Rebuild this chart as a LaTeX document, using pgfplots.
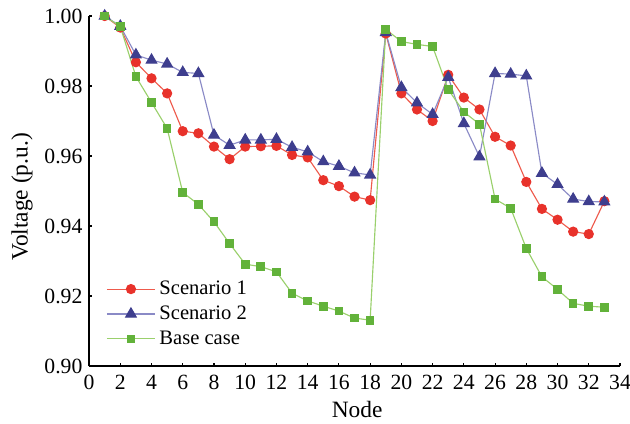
\documentclass[border=0pt]{standalone}
\usepackage{pgfplots}
\pgfplotsset{compat=1.18}
\usepackage{fontspec}
\setmainfont{Liberation Serif}

\definecolor{sOneMark}{HTML}{E8322B}
\definecolor{sOneLine}{HTML}{EE5A4C}
\definecolor{sTwoMark}{HTML}{3E3E8E}
\definecolor{sTwoLine}{HTML}{8A8AC6}
\definecolor{baseMark}{HTML}{62B23A}
\definecolor{baseLine}{HTML}{9AD06C}

\begin{document}
\begin{tikzpicture}
  \begin{axis}[
      scale only axis,
      width=281.4pt, height=185.5pt,
      xmin=0, xmax=34,
      ymin=0.90, ymax=1.00,
      xtick={0,2,4,6,8,10,12,14,16,18,20,22,24,26,28,30,32,34},
      ytick={0.90,0.92,0.94,0.96,0.98,1.00},
      axis x line*=bottom,
      axis y line*=left,
      tick align=inside,
      major tick length=1.8pt,
      axis line style={black, line width=0.6pt},
      tick style={black, line width=0.6pt},
      /pgf/number format/assume math mode=true,
      ticklabel style={font=\fontsize{11.5}{12}\selectfont},
      xticklabel style={anchor=base, yshift=-12.7pt},
      yticklabel style={
        /pgf/number format/fixed,
        /pgf/number format/fixed zerofill,
        /pgf/number format/precision=2},
      label style={font=\fontsize{12.4}{14}\selectfont},
      xlabel={Node},
      ylabel={Voltage (p.u.)},
      xlabel style={at={(axis description cs:0.505,-0.124)}, anchor=center},
      ylabel style={at={(axis description cs:-0.126,0.483)}, anchor=center},
      legend style={draw=none, fill=none, at={(0.021,0.266)}, anchor=north west,
        font=\fontsize{10.9}{12}\selectfont, row sep=0.5pt},
      legend cell align=left,
      legend image code/.code={
        \draw[mark repeat=2, mark phase=2, #1]
          plot coordinates {(0cm,0cm) (0.45cm,0cm) (0.9cm,0cm)};
      },
    ]
    \addplot[sOneLine, line width=0.6pt, mark=*, mark size=2.4pt,
      mark options={fill=sOneMark, draw=sOneMark}]
    coordinates {
      (1,1.000)(2,0.9967)(3,0.9868)(4,0.9822)(5,0.9779)(6,0.9671)(7,0.9665)
      (8,0.9627)(9,0.9591)(10,0.9627)(11,0.9628)(12,0.9629)(13,0.9603)
      (14,0.9596)(15,0.9531)(16,0.9514)(17,0.9484)(18,0.9474)(19,0.9950)
      (20,0.9779)(21,0.9733)(22,0.9700)(23,0.9832)(24,0.9767)(25,0.9733)
      (26,0.9655)(27,0.9630)(28,0.9526)(29,0.9449)(30,0.9418)(31,0.9384)
      (32,0.9377)(33,0.9471)
    };
    \addplot[sTwoLine, line width=0.6pt, mark=triangle*, mark size=3.2pt,
      mark options={fill=sTwoMark, draw=sTwoMark}]
    coordinates {
      (1,1.000)(2,0.9971)(3,0.9889)(4,0.9874)(5,0.9863)(6,0.9839)(7,0.9836)
      (8,0.9660)(9,0.9631)(10,0.9646)(11,0.9646)(12,0.9648)(13,0.9625)
      (14,0.9612)(15,0.9584)(16,0.9571)(17,0.9552)(18,0.9546)(19,0.9953)
      (20,0.9796)(21,0.9752)(22,0.9719)(23,0.9825)(24,0.9693)(25,0.9598)
      (26,0.9836)(27,0.9834)(28,0.9829)(29,0.9551)(30,0.9519)(31,0.9477)
      (32,0.9470)(33,0.9469)
    };
    \addplot[baseLine, line width=0.6pt, mark=square*, mark size=2.0pt,
      mark options={fill=baseMark, draw=baseMark}]
    coordinates {
      (1,1.000)(2,0.9970)(3,0.9827)(4,0.9753)(5,0.9679)(6,0.9496)(7,0.9462)
      (8,0.9412)(9,0.9350)(10,0.9291)(11,0.9284)(12,0.9269)(13,0.9208)
      (14,0.9186)(15,0.9171)(16,0.9157)(17,0.9137)(18,0.9131)(19,0.9962)
      (20,0.9927)(21,0.9919)(22,0.9913)(23,0.9790)(24,0.9726)(25,0.9691)
      (26,0.9477)(27,0.9451)(28,0.9336)(29,0.9255)(30,0.9219)(31,0.9179)
      (32,0.9171)(33,0.9168)
    };
    \legend{Scenario 1, Scenario 2, Base case}
  \end{axis}
  % page as large as the reference, with its margins
  \pgfresetboundingbox
  \path[use as bounding box]
    ([shift={(-47.2pt,-30.2pt)}]current axis.south west)
    rectangle ([shift={(5.3pt,8.5pt)}]current axis.north east);
\end{tikzpicture}
\end{document}
